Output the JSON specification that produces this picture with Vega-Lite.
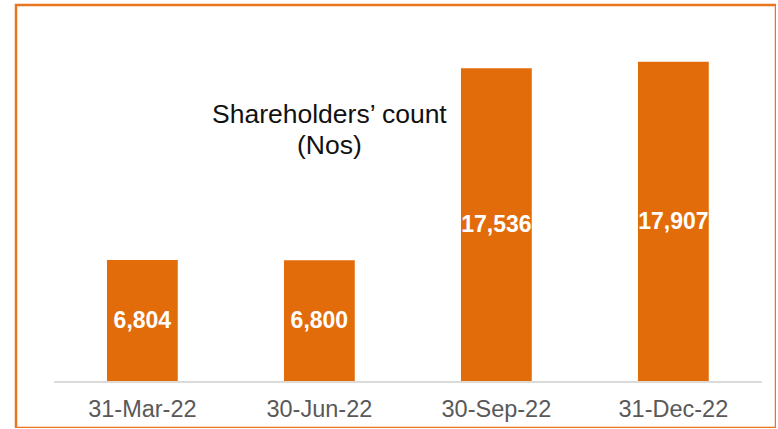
{
  "$schema": "https://vega.github.io/schema/vega-lite/v6.json",
  "width": 760,
  "height": 423,
  "autosize": {"type": "none"},
  "padding": {"left": 16, "top": 5, "right": 0, "bottom": 0},
  "background": "white",
  "config": {
    "font": "Liberation Sans",
    "view": {"stroke": "#E97520", "strokeWidth": 2.5}
  },
  "data": {
    "values": [
      {"date": "31-Mar-22", "count": 6804, "label": "6,804"},
      {"date": "30-Jun-22", "count": 6800, "label": "6,800"},
      {"date": "30-Sep-22", "count": 17536, "label": "17,536"},
      {"date": "31-Dec-22", "count": 17907, "label": "17,907"}
    ]
  },
  "layer": [
    {
      "mark": {"type": "bar", "color": "#E36C0A"},
      "encoding": {
        "x": {
          "field": "date",
          "type": "nominal",
          "sort": null,
          "scale": {"paddingInner": 0.6, "paddingOuter": 0.4469, "align": 0.575},
          "axis": {
            "title": null,
            "orient": "bottom",
            "offset": -46.3,
            "domain": false,
            "ticks": false,
            "tickSize": 0,
            "labelAngle": 0,
            "labelFontSize": 23.5,
            "labelColor": "#595959",
            "labelBaseline": "alphabetic",
            "labelPadding": 35
          }
        },
        "y": {
          "field": "count",
          "type": "quantitative",
          "scale": {"domain": [-2591, 21080], "nice": false, "zero": false},
          "axis": null
        }
      }
    },
    {
      "mark": {"type": "rule", "color": "#D9D9D9", "strokeWidth": 1.5},
      "encoding": {
        "x": {"datum": "31-Mar-22", "bandPosition": -0.746},
        "x2": {"datum": "31-Dec-22", "bandPosition": 1.746},
        "y": {"datum": 0}
      }
    },
    {
      "mark": {"type": "text", "color": "white", "fontSize": 23, "fontWeight": "bold", "baseline": "middle", "align": "center"},
      "encoding": {
        "x": {"field": "date", "type": "nominal", "sort": null},
        "y": {"field": "count", "type": "quantitative", "stack": "zero", "bandPosition": 0.5},
        "text": {"field": "label"}
      }
    },
    {
      "data": {"values": [{"note": "title"}]},
      "mark": {"type": "text", "color": "#111111", "fontSize": 26.5, "baseline": "alphabetic", "align": "center", "lineHeight": 31, "dx": 10},
      "encoding": {
        "x": {"datum": "30-Jun-22"},
        "y": {"datum": 14460},
        "text": {"value": ["Shareholders’ count", "(Nos)"]}
      }
    }
  ]
}
